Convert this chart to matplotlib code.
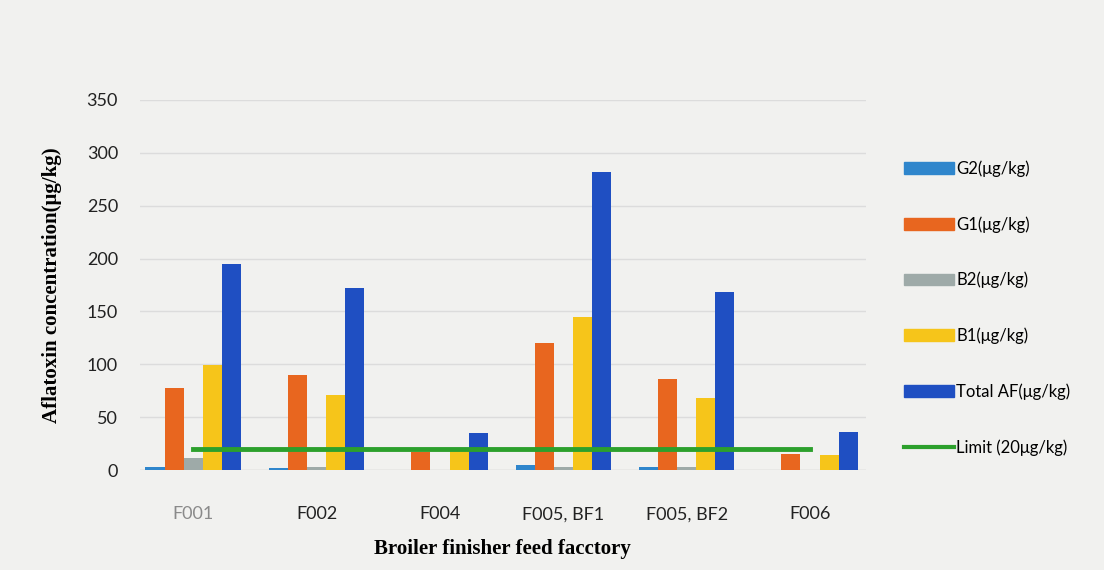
import numpy as np
import matplotlib.pyplot as plt
from matplotlib.patches import Patch
from matplotlib.lines import Line2D

factories = ['F001', 'F002', 'F004', 'F005, BF1', 'F005, BF2', 'F006']
g2 = [3, 2, 0.5, 5, 3, 0.5]
g1 = [78, 90, 17, 120, 86, 15]
b2 = [12, 3, 0.5, 3, 3, 0.5]
b1 = [99, 71, 18, 145, 68, 14]
total_af = [195, 172, 35, 282, 168, 36]
limit = [20, 20, 20, 20, 20, 20]

series = [
    ('G2(\u03bcg/kg)', g2, '#2f86cc'),
    ('G1(\u03bcg/kg)', g1, '#e8661f'),
    ('B2(\u03bcg/kg)', b2, '#9eaaa8'),
    ('B1(\u03bcg/kg)', b1, '#f6c51a'),
    ('Total AF(\u03bcg/kg)', total_af, '#1f4fc2'),
]

bg = '#f1f1ef'
fig = plt.figure(figsize=(11.04, 5.70), dpi=100, facecolor=bg)
ax = fig.add_axes([0.127, 0.175, 0.657, 0.65], facecolor=bg)

x = np.arange(len(factories))
w = 0.155
for i, (name, vals, col) in enumerate(series):
    ax.bar(x + (i - 2) * w, vals, width=w, color=col, zorder=2)

ax.plot(x, limit, color='#2ca02c', lw=3.5, zorder=3)

ax.set_xlim(-0.43, len(factories) - 0.55)
ax.set_ylim(0, 350)
ax.set_yticks(np.arange(0, 351, 50))
ax.grid(axis='y', color='#dcdcdc', lw=1, zorder=0)
for s in ax.spines.values():
    s.set_visible(False)
ax.axhline(0, color='#d4d4d4', lw=1, zorder=1)
ax.tick_params(length=0, labelsize=13, colors='#222222')
ax.tick_params(axis='y', pad=16)
ax.tick_params(axis='x', pad=26)
ax.set_xticks(x)
ax.set_xticklabels(factories, fontsize=13, fontfamily='Lato')
for lbl in ax.get_yticklabels():
    lbl.set_fontfamily('Lato')
ax.get_xticklabels()[0].set_color('#8a8a8a')

ax.set_xlabel('Broiler finisher feed facctory', fontsize=15, fontweight='bold',
              fontfamily='Liberation Serif', labelpad=12)
ax.set_ylabel('Aflatoxin concentration(\u03bcg/kg)', fontsize=15, fontweight='bold',
              fontfamily='Liberation Serif', labelpad=18)

handles = [Patch(color=col, label=name) for name, vals, col in series]
handles.append(Line2D([0], [0], color='#2ca02c', lw=3, label='Limit (20\u03bcg/kg)'))
fig.legend(handles=handles, loc='upper left', bbox_to_anchor=(0.805, 0.745),
           frameon=False, prop={'family': 'Lato', 'size': 12},
           handlelength=3.0, handleheight=0.7, handletextpad=0.15,
           labelspacing=2.35)

fig.savefig('out.png', dpi=100, facecolor=bg)
